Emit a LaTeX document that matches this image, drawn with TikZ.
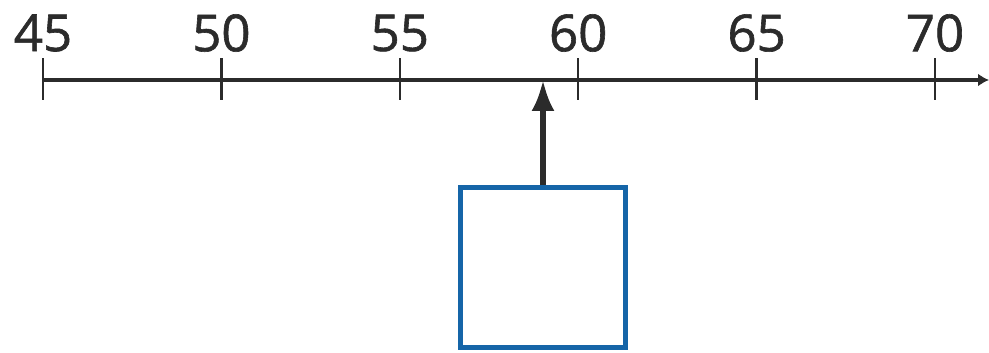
\documentclass[tikz,border=0pt]{standalone}
\usepackage{fontspec}
\setmainfont{Open Sans}
\usetikzlibrary{arrows.meta}
\definecolor{boxblue}{HTML}{1565A8}
\definecolor{ink}{HTML}{2B2B2B}
\tikzset{
    numline/.style={draw=ink, line width=1.8pt},
    tickline/.style={draw=ink, line width=1.3pt},
    ticklabel/.style={text=ink, font=\fontsize{29}{30}\selectfont\addfontfeatures{FakeBold=1.2}, inner sep=0pt},
    answerbox/.style={draw=boxblue, line width=2.8pt, fill=white, minimum width=3.3cm, minimum height=3.2cm, inner sep=0pt},
    pointer/.style={draw=ink, line width=3pt, -{Latex[length=0.62cm,width=0.46cm]}}
}
\begin{document}
\begin{tikzpicture}
                \useasboundingbox (0,0) rectangle (19.78,7.04);

                % Draw the number line
                \coordinate (start) at (0.86,5.44);
                \coordinate (end) at (19.78,5.44);
                \draw[numline, -{Latex[length=0.22cm,width=0.26cm]}] (start) -- (end);

                % Draw the ticks and their labels
                \foreach \v [count=\i from 0] in {45,50,...,70} {
                    \draw[tickline] (0.86+3.568*\i,5.04) -- (0.86+3.568*\i,5.88);
                    \node[ticklabel] (lbl\v) at (0.86+3.568*\i,6.38) {\v};
                }

                % Draw the empty box
                \node[answerbox] (box) at (10.86,1.69) {};

                % Draw the arrow from the box up to the line
                \coordinate (mark) at (10.86,5.44);
                \draw[pointer] (box.north) -- (mark);
            \end{tikzpicture}
\end{document}
